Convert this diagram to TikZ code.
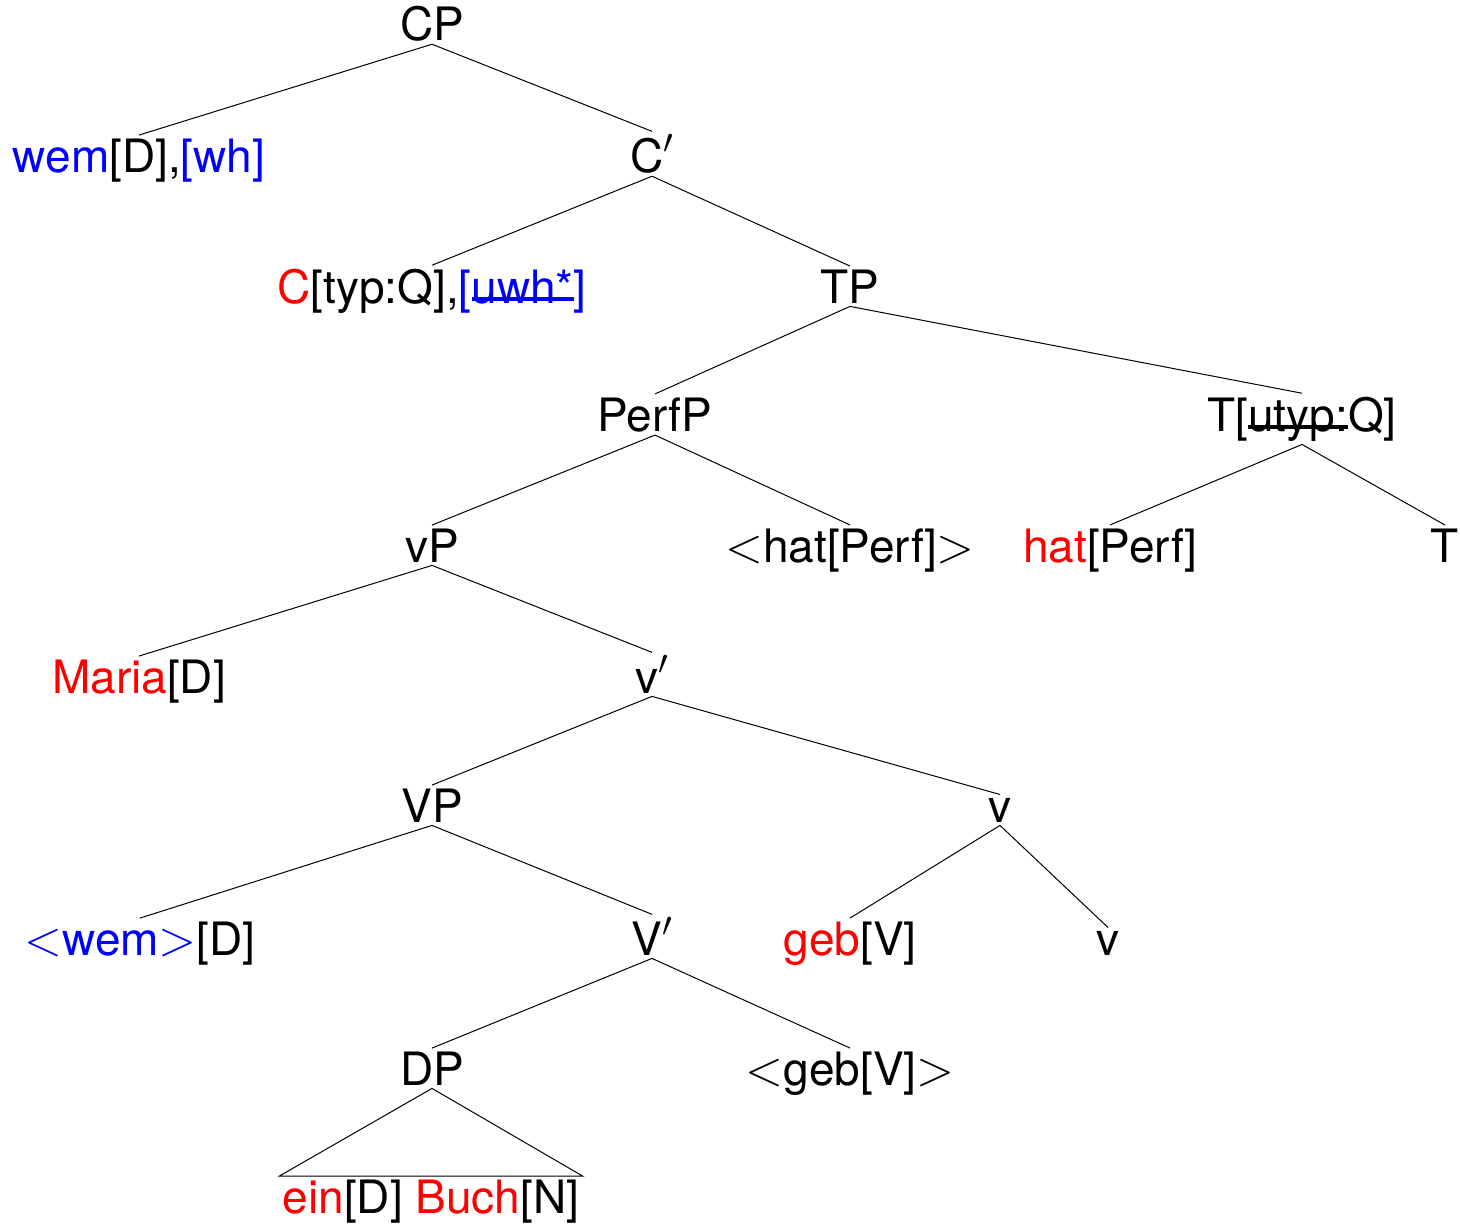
\documentclass[tikz,border=0pt]{standalone}
\usepackage{fontspec}
\setmainfont{TeX Gyre Heros}
\usetikzlibrary{positioning}

%% a struck-out feature: the bar sits low, near the baseline
\newsavebox\strikebox
\newcommand\lowstrike[1]{\sbox\strikebox{#1}\rlap{\rule[0.8pt]{\wd\strikebox}{2.2pt}}\usebox\strikebox}
\newcommand\trace[1]{$<$#1$>$}

\begin{document}
\begin{tikzpicture}[x=0.5pt,y=-0.5pt]

	\useasboundingbox (0,0) rectangle (1460,1226);

	%% All labels of the tree, placed on their baselines
	\begin{scope}[every node/.style={anchor=base, inner sep=1.5pt, font=\fontsize{23}{28}\selectfont}]
		\node at (432,40)   (cp)      {CP};
		\node at (139,172)  (wem)     {\textcolor{blue}{wem}[D],\textcolor{blue}{[wh]}};
		\node at (652,172)  (cbar)    {C$'$};
		\node at (432,303)  (c)       {\textcolor{red}{C}[typ:Q],\textcolor{blue}{[\lowstrike{uwh*}]}};
		\node at (850,303)  (tp)      {TP};
		\node at (655,431)  (perfp)   {PerfP};
		\node at (1302,431) (t)       {T[\lowstrike{utyp:}Q]};
		\node at (432,562)  (vp)      {vP};
		\node at (850,562)  (hatcopy) {\trace{hat[Perf]}};
		\node at (1110,562) (hat)     {\textcolor{red}{hat}[Perf]};
		\node at (1445,562) (thead)   {T};
		\node at (139,693)  (maria)   {\textcolor{red}{Maria}[D]};
		\node at (652,693)  (vbar)    {v$'$};
		\node at (432,822)  (bigvp)   {VP};
		\node at (1000,822) (vhead)   {v};
		\node at (140,955)  (wemcopy) {\textcolor{blue}{\trace{wem}}[D]};
		\node at (652,955)  (bigvbar) {V$'$};
		\node at (850,955)  (geb)     {\textcolor{red}{geb}[V]};
		\node at (1108,955) (vsuffix) {v};
		\node at (432,1085) (dp)      {DP};
		\node at (850,1085) (gebcopy) {\trace{geb[V]}};
		\node at (431,1213) (einbuch) {\textcolor{red}{ein}[D] \textcolor{red}{Buch}[N]};
	\end{scope}

	%% Branches, mother to daughter
	\begin{scope}[line width=0.5pt]
		\foreach \m/\d in {cp/wem, cp/cbar, cbar/c, cbar/tp, tp/perfp, tp/t,
			perfp/vp, perfp/hatcopy, t/hat, t/thead, vp/maria, vp/vbar,
			vbar/bigvp, vbar/vhead, bigvp/wemcopy, bigvp/bigvbar,
			vhead/geb, vhead/vsuffix, bigvbar/dp, bigvbar/gebcopy}{%
			\draw (\m.south) -- (\d.north);
		}

		%% The DP is left unanalysed
		\draw (dp.south) -- (einbuch.north west) -- (einbuch.north east) -- cycle;
	\end{scope}

\end{tikzpicture}
\end{document}
